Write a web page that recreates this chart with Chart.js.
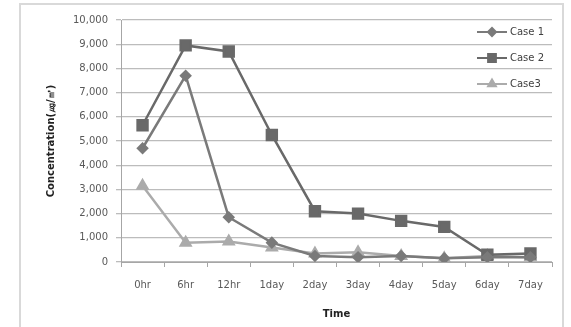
<!DOCTYPE html>
<html>
<head>
<meta charset="utf-8">
<script src="https://cdn.jsdelivr.net/npm/chart.js@4"></script>
<style>
  html,body{margin:0;padding:0;background:#fff}
  #wrap{position:relative;width:571px;height:327px}
  #frame{position:absolute;left:19px;top:3px;width:545px;height:340px;border:2px solid #d9d9d9;box-sizing:border-box}
  canvas{position:absolute;left:0;top:0}
</style>
</head>
<body>
<div id="wrap">
  <div id="frame"></div>
  <canvas id="c" width="571" height="327"></canvas>
</div>
<script>
const labels = ['0hr','6hr','12hr','1day','2day','3day','4day','5day','6day','7day'];
const case1 = [4700,7700,1850,800,250,200,250,150,200,200];
const case2 = [5650,8950,8700,5250,2100,2000,1700,1450,300,350];
const case3 = [3150,800,850,600,350,400,250,150,250,200];

const FONT = 'DejaVu Sans';

// legend drawn inside the plot area, top right
const insideLegend = {
  id:'insideLegend',
  afterDraw(chart){
    const ctx = chart.ctx;
    const x0 = 477, x1 = 507, tx = 510;
    const ys = [32, 58, 84];
    chart.data.datasets.forEach((ds,i)=>{
      const y = ys[i];
      ctx.save();
      ctx.strokeStyle = ds.borderColor; ctx.lineWidth = 2;
      ctx.beginPath(); ctx.moveTo(x0,y); ctx.lineTo(x1,y); ctx.stroke();
      ctx.fillStyle = ds.borderColor;
      Chart.helpers.drawPoint(ctx,{pointStyle:ds.pointStyle,radius:ds.legendRadius,rotation:0,borderWidth:1},(x0+x1)/2,y);
      ctx.fillStyle = '#404040';
      ctx.font = '10px "'+FONT+'"';
      ctx.textAlign = 'left'; ctx.textBaseline = 'middle';
      ctx.fillText(ds.label, tx, y);
      ctx.restore();
    });
  }
};

new Chart(document.getElementById('c').getContext('2d'),{
  type:'line',
  data:{labels,datasets:[
    {label:'Case 1',data:case1,borderColor:'#7a7a7a',backgroundColor:'#7a7a7a',borderWidth:2.5,pointStyle:'rectRot',pointRadius:4.5,legendRadius:4,tension:0},
    {label:'Case 2',data:case2,borderColor:'#696969',backgroundColor:'#696969',borderWidth:2.5,pointStyle:'rect',pointRadius:7,legendRadius:5.5,tension:0},
    {label:'Case3',data:case3,borderColor:'#ababab',backgroundColor:'#ababab',borderWidth:2.5,pointStyle:'triangle',pointRadius:5.5,legendRadius:4.5,tension:0}
  ]},
  options:{
    responsive:false,
    animation:false,
    devicePixelRatio:1,
    layout:{padding:{left:20,right:19,top:20,bottom:0}},
    plugins:{legend:{display:false},tooltip:{enabled:false}},
    scales:{
      x:{
        offset:true,
        afterFit(s){s.height=65},
        grid:{offset:true,drawOnChartArea:false,drawTicks:true,tickLength:5,color:'#a6a6a6'},
        border:{color:'#a6a6a6'},
        ticks:{color:'#595959',font:{family:FONT,size:10},padding:12,maxRotation:0},
        title:{display:true,text:'Time',color:'#222',font:{family:FONT,size:10,weight:'bold'},padding:{top:0,bottom:7}}
      },
      y:{
        min:0,max:10000,
        afterFit(s){s.width=101},
        grid:{color:'#bcbcbc',lineWidth:1.3,tickLength:5},
        border:{color:'#a6a6a6'},
        ticks:{stepSize:1000,color:'#595959',font:{family:FONT,size:10},padding:8,
          callback:v=>v.toLocaleString('en-US')},
        title:{display:true,text:'Concentration(㎍/㎥)',color:'#222',font:{family:FONT,size:10,weight:'bold'},padding:{top:25,bottom:0}}
      }
    }
  },
  plugins:[insideLegend]
});
</script>
</body>
</html>
